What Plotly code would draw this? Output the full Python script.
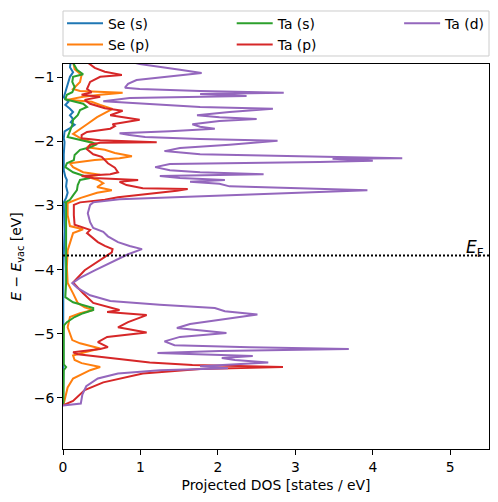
import plotly.graph_objects as go

# ---- data (energy in eV relative to vacuum, projected DOS in states/eV) ----
E_FERMI = -3.78

se_s_E = [-6.12, -5.0, -4.6, -4.0, -3.4, -3.1, -2.95, -2.88, -2.80, -2.70, -2.60, -2.55, -2.45,
          -2.20, -2.01, -1.95, -1.84, -1.80, -1.74, -1.70, -1.65, -1.59, -1.54, -1.49, -1.43,
          -1.38, -1.31, -1.23, -1.15, -1.07, -0.99, -0.92, -0.84, -0.75]
se_s_dos = [0.003, 0.005, 0.012, 0.004, 0.02, 0.015, 0.01, 0.04, 0.06, 0.04, 0.05, 0.03, 0.01,
            0.01, 0.02, 0.01, 0.02, 0.08, 0.15, 0.10, 0.13, 0.09, 0.13, 0.09, 0.03,
            0.07, 0.01, 0.03, 0.05, 0.07, 0.09, 0.13, 0.09, 0.10]

se_p_E = [-6.09, -5.99, -5.84, -5.70, -5.62, -5.57, -5.52, -5.49, -5.46, -5.41, -5.34, -5.29,
          -5.23, -5.15, -5.10, -4.90, -4.74, -4.68, -4.63, -4.59, -4.52, -4.37, -4.21, -3.96,
          -3.70, -3.43, -3.37, -3.32, -3.15, -2.96, -2.88, -2.80, -2.76, -2.71, -2.65, -2.60,
          -2.55, -2.52, -2.48, -2.40, -2.34, -2.29, -2.26, -2.23, -2.18, -2.13, -2.09, -2.02,
          -1.96, -1.88, -1.80, -1.73, -1.62, -1.54, -1.49, -1.43, -1.38, -1.35, -1.30, -1.27,
          -1.24, -1.21, -1.18, -1.07, -0.96, -0.87, -0.75]
se_p_dos = [0.01, 0.03, 0.06, 0.13, 0.26, 0.35, 0.48, 0.37, 0.24, 0.15, 0.13, 0.28,
            0.48, 0.22, 0.12, 0.06, 0.09, 0.22, 0.39, 0.28, 0.19, 0.13, 0.06, 0.05,
            0.06, 0.13, 0.26, 0.09, 0.06, 0.06, 0.23, 0.44, 0.63, 0.44, 0.52, 0.45,
            0.31, 0.48, 0.26, 0.13, 0.09, 0.41, 0.73, 0.89, 0.67, 0.54, 0.31, 0.39,
            0.24, 0.13, 0.22, 0.31, 0.44, 0.57, 0.64, 0.48, 0.37, 0.05, 0.26, 0.48,
            0.77, 0.22, 0.13, 0.22, 0.24, 0.15, 0.13]

ta_s_E = [-6.12, -5.57, -5.52, -5.48, -4.95, -4.87, -4.82, -4.74, -4.68, -4.63, -4.60, -4.55,
          -4.51, -4.43, -4.21, -3.70, -2.96, -2.95, -2.91, -2.84, -2.76, -2.68, -2.60, -2.57,
          -2.52, -2.48, -2.40, -2.34, -2.29, -2.21, -2.13, -2.09, -2.04, -2.01, -1.93, -1.82,
          -1.74, -1.66, -1.59, -1.51, -1.46, -1.41, -1.37, -1.34, -1.27, -1.23, -1.15, -1.07,
          -0.99, -0.95, -0.88, -0.75]
ta_s_dos = [0.005, 0.01, 0.04, 0.01, 0.01, 0.013, 0.05, 0.15, 0.26, 0.39, 0.39, 0.26,
            0.13, 0.03, 0.04, 0.04, 0.04, 0.03, 0.09, 0.13, 0.18, 0.19, 0.22, 0.35,
            0.22, 0.13, 0.03, 0.05, 0.14, 0.15, 0.22, 0.35, 0.44, 0.35, 0.06, 0.09,
            0.12, 0.13, 0.19, 0.22, 0.31, 0.26, 0.12, 0.03, 0.05, 0.12, 0.15, 0.12,
            0.13, 0.26, 0.18, 0.12]

ta_p_E = [-6.12, -6.05, -5.88, -5.76, -5.62, -5.55, -5.52, -5.49, -5.45, -5.38, -5.32, -5.29,
          -5.24, -5.21, -5.13, -5.05, -4.98, -4.90, -4.82, -4.71, -4.66, -4.63, -4.52, -4.37,
          -4.20, -4.01, -3.85, -3.73, -3.68, -3.63, -3.57, -3.48, -3.43, -3.38, -3.30, -3.15,
          -2.99, -2.95, -2.91, -2.87, -2.80, -2.77, -2.74, -2.73, -2.68, -2.63, -2.60, -2.57,
          -2.54, -2.51, -2.48, -2.41, -2.34, -2.29, -2.24, -2.20, -2.12, -2.05, -2.02, -2.01,
          -1.98, -1.95, -1.90, -1.85, -1.80, -1.76, -1.73, -1.66, -1.62, -1.59, -1.52, -1.48,
          -1.41, -1.35, -1.30, -1.27, -1.23, -1.18, -1.07, -0.99, -0.96, -0.91, -0.85, -0.75]
ta_p_dos = [0.00, 0.13, 0.28, 0.52, 1.03, 1.77, 2.84, 1.67, 1.12, 0.61, 0.19, 0.13,
            0.48, 0.58, 0.45, 0.57, 1.08, 0.71, 0.84, 1.08, 0.57, 0.73, 0.39, 0.26,
            0.13, 0.28, 0.48, 0.63, 0.64, 0.54, 0.45, 0.35, 0.31, 0.35, 0.15, 0.14,
            0.14, 0.22, 0.54, 0.71, 1.25, 1.47, 1.61, 1.03, 0.82, 0.73, 0.97, 0.39,
            0.24, 0.61, 0.71, 0.67, 0.58, 0.54, 0.50, 0.39, 0.31, 0.35, 0.48, 1.21,
            0.48, 0.24, 0.24, 0.31, 0.61, 0.67, 0.64, 0.99, 0.73, 0.61, 0.77, 0.54,
            0.35, 0.28, 0.48, 0.24, 0.37, 0.31, 0.35, 0.48, 0.76, 0.54, 0.41, 0.30]

ta_d_E = [-6.12, -6.09, -5.95, -5.82, -5.70, -5.62, -5.57, -5.54, -5.51, -5.48, -5.45, -5.41,
          -5.38, -5.35, -5.32, -5.30, -5.27, -5.24, -5.21, -5.18, -5.12, -5.05, -4.99, -4.96,
          -4.91, -4.85, -4.76, -4.70, -4.65, -4.60, -4.55, -4.49, -4.40, -4.29, -4.21, -4.13,
          -4.01, -3.88, -3.76, -3.68, -3.63, -3.57, -3.48, -3.41, -3.35, -3.26, -3.12, -2.99,
          -2.95, -2.90, -2.87, -2.82, -2.79, -2.76, -2.73, -2.70, -2.66, -2.63, -2.60, -2.57,
          -2.54, -2.51, -2.48, -2.45, -2.40, -2.35, -2.32, -2.30, -2.27, -2.26, -2.23, -2.20,
          -2.15, -2.10, -2.05, -1.99, -1.96, -1.93, -1.90, -1.87, -1.84, -1.80, -1.77, -1.73,
          -1.68, -1.65, -1.62, -1.59, -1.54, -1.49, -1.46, -1.41, -1.37, -1.32, -1.29, -1.26,
          -1.24, -1.21, -1.18, -1.16, -1.10, -1.04, -0.98, -0.93, -0.88, -0.84, -0.79, -0.75]
ta_d_dos = [0.00, 0.23, 0.25, 0.30, 0.45, 0.71, 1.25, 2.13, 1.77, 2.28, 2.65, 2.22,
            2.05, 2.45, 1.77, 1.22, 2.02, 3.69, 2.41, 1.44, 1.31, 1.51, 2.11, 1.89,
            1.47, 1.64, 2.15, 2.51, 2.09, 1.96, 1.25, 0.61, 0.35, 0.19, 0.12, 0.22,
            0.41, 0.63, 0.84, 1.02, 0.86, 0.71, 0.58, 0.52, 0.39, 0.35, 0.32, 0.35,
            0.39, 0.73, 1.47, 2.54, 3.44, 3.93, 3.05, 2.15, 2.02, 1.64, 2.09, 1.51,
            1.25, 2.59, 1.77, 1.38, 1.19, 1.38, 3.31, 4.00, 3.48, 4.38, 3.05, 1.77,
            1.31, 1.51, 2.15, 2.77, 1.77, 1.06, 0.86, 0.73, 1.38, 1.96, 1.77, 1.67,
            2.02, 2.50, 2.02, 1.73, 2.15, 2.71, 1.77, 0.99, 0.52, 0.86, 2.37, 1.77,
            2.85, 1.77, 0.99, 0.80, 0.84, 0.95, 1.38, 1.79, 1.51, 1.25, 0.99, 0.85]

series = [
    ("Se (s)", se_s_E, se_s_dos, "#1f77b4", "legend", 1),
    ("Se (p)", se_p_E, se_p_dos, "#ff7f0e", "legend", 2),
    ("Ta (s)", ta_s_E, ta_s_dos, "#2ca02c", "legend2", 1),
    ("Ta (p)", ta_p_E, ta_p_dos, "#d62728", "legend2", 2),
    ("Ta (d)", ta_d_E, ta_d_dos, "#9467bd", "legend3", 1),
]

FONT = "DejaVu Sans"
FS = 13.9

fig = go.Figure()
for name, E, dos, color, leg, rank in series:
    fig.add_trace(go.Scatter(x=dos, y=E, mode="lines", name=name,
                             line=dict(color=color, width=2),
                             legend=leg, legendrank=rank, showlegend=True))

# Fermi level
fig.add_shape(type="line", xref="paper", yref="y", x0=0, x1=1, y0=E_FERMI, y1=E_FERMI,
              line=dict(color="black", width=2, dash="2px,2px"))
fig.add_annotation(x=5.46, y=E_FERMI, xref="x", yref="y", text="<i>E</i><sub>F</sub>",
                   showarrow=False, xanchor="right", yanchor="bottom", yshift=-6,
                   font=dict(family=FONT, size=17, color="black"))

# legend frame
fig.add_shape(type="rect", xref="paper", yref="paper", x0=0.0, x1=1.0, y0=1.0208, y1=1.1377,
              line=dict(color="#cccccc", width=1), fillcolor="rgba(0,0,0,0)", layer="above")

axis_common = dict(showline=True, linecolor="black", linewidth=1, mirror=True,
                   ticks="outside", ticklen=4.9, tickwidth=1, tickcolor="black",
                   showgrid=False, zeroline=False, automargin=False,
                   tickfont=dict(family=FONT, size=FS, color="black"))

leg_common = dict(orientation="v", yanchor="top", xanchor="left", y=1.146,
                  bgcolor="rgba(0,0,0,0)", borderwidth=0,
                  font=dict(family=FONT, size=FS, color="black"), itemwidth=36)

# the page body adds an 8 px offset, so the figure is 8 px smaller on each side
fig.update_layout(
    width=490, height=494,
    margin=dict(l=55, r=9, t=56, b=53, autoexpand=False),
    plot_bgcolor="white", paper_bgcolor="white",
    font=dict(family=FONT, size=FS, color="black"),
    xaxis=dict(range=[0, 5.5], dtick=1, tick0=0,
               title=dict(text="Projected DOS [states / eV]", font=dict(family=FONT, size=FS),
                          standoff=6),
               **axis_common),
    yaxis=dict(range=[-6.80, -0.79], dtick=1, tick0=0,
               title=dict(text="<i>E</i> − <i>E</i><sub>vac</sub> [eV]",
                          font=dict(family=FONT, size=FS), standoff=10),
               **axis_common),
    legend=dict(x=-0.0023, **leg_common),
    legend2=dict(x=0.396, **leg_common),
    legend3=dict(x=0.789, **leg_common),
    showlegend=True,
)

fig.write_html("out.html")
